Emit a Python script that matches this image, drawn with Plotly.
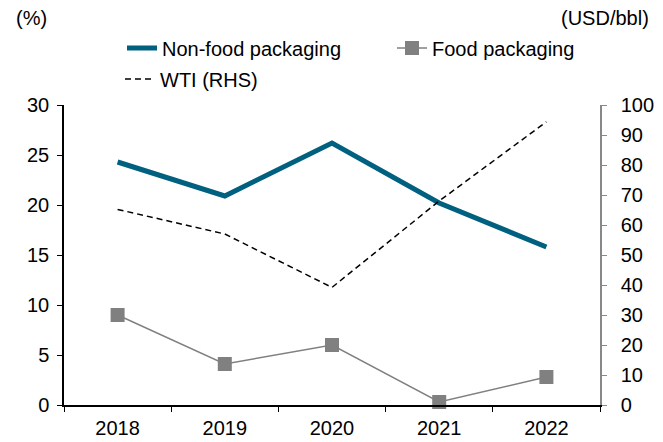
import plotly.graph_objects as go

years = ["2018", "2019", "2020", "2021", "2022"]
non_food = [24.3, 20.9, 26.2, 20.2, 15.8]
food = [9.0, 4.1, 6.0, 0.3, 2.8]
wti = [65.2, 57.0, 39.2, 68.0, 94.4]

FONT = "Liberation Sans, Arial, sans-serif"

fig = go.Figure()
fig.add_trace(go.Scatter(
    x=years, y=non_food, name="Non-food packaging", mode="lines",
    line=dict(color="#00607F", width=5), legend="legend", cliponaxis=False))
fig.add_trace(go.Scatter(
    x=years, y=food, name="Food packaging", mode="lines+markers",
    line=dict(color="#808080", width=1.5),
    marker=dict(symbol="square", size=14, color="#808080"),
    legend="legend", cliponaxis=False))
fig.add_trace(go.Scatter(
    x=years, y=wti, name="WTI (RHS)", mode="lines", yaxis="y2",
    line=dict(color="#000000", width=1.5, dash="6px,4px"),
    legend="legend2", cliponaxis=False))

fig.update_layout(
    width=663, height=442,
    margin=dict(l=64, r=63, t=105, b=37, autoexpand=False),
    paper_bgcolor="white", plot_bgcolor="white",
    font=dict(family=FONT, size=20, color="#000000"),
    showlegend=True,
    legend=dict(orientation="h", xref="paper", yref="paper",
                x=(122 - 64) / 536, xanchor="left", y=(405 - 48) / 300, yanchor="middle",
                entrywidth=225, font=dict(size=20), bgcolor="rgba(0,0,0,0)"),
    legend2=dict(orientation="h", xref="paper", yref="paper",
                 x=(120 - 64) / 536, xanchor="left", y=(405 - 79) / 300, yanchor="middle",
                 font=dict(size=20), bgcolor="rgba(0,0,0,0)"),
    xaxis=dict(type="category", range=[-0.5, len(years) - 0.5], showline=True,
               linecolor="#000000", linewidth=1.5,
               ticks="outside", tickson="boundaries", ticklen=5, tickcolor="#000000",
               showgrid=False, zeroline=False, tickfont=dict(size=20), automargin=False,
               ticklabelstandoff=4),
    yaxis=dict(range=[0, 30], dtick=5, showline=True, linecolor="#000000", linewidth=1.5,
               ticks="outside", ticklen=5, tickcolor="#000000", showgrid=False,
               zeroline=False, tickfont=dict(size=20), automargin=False,
               ticklabelstandoff=4),
    yaxis2=dict(range=[0, 100], dtick=10, overlaying="y", side="right", showline=True,
                linecolor="#888888", linewidth=1.5, ticks="outside", ticklen=5,
                tickcolor="#888888", showgrid=False, zeroline=False,
                tickfont=dict(size=20), automargin=False, ticklabelstandoff=10),
    annotations=[
        dict(text="(%)", xref="paper", yref="paper", x=0, xshift=-50, y=(405 - 18) / 300,
             xanchor="left", yanchor="middle", showarrow=False, font=dict(size=20)),
        dict(text="(USD/bbl)", xref="paper", yref="paper", x=1, xshift=51, y=(405 - 18) / 300,
             xanchor="right", yanchor="middle", showarrow=False, font=dict(size=20)),
    ],
)

fig.write_html("out.html", config={"displayModeBar": False},
               post_script="document.body.style.margin='0';")
